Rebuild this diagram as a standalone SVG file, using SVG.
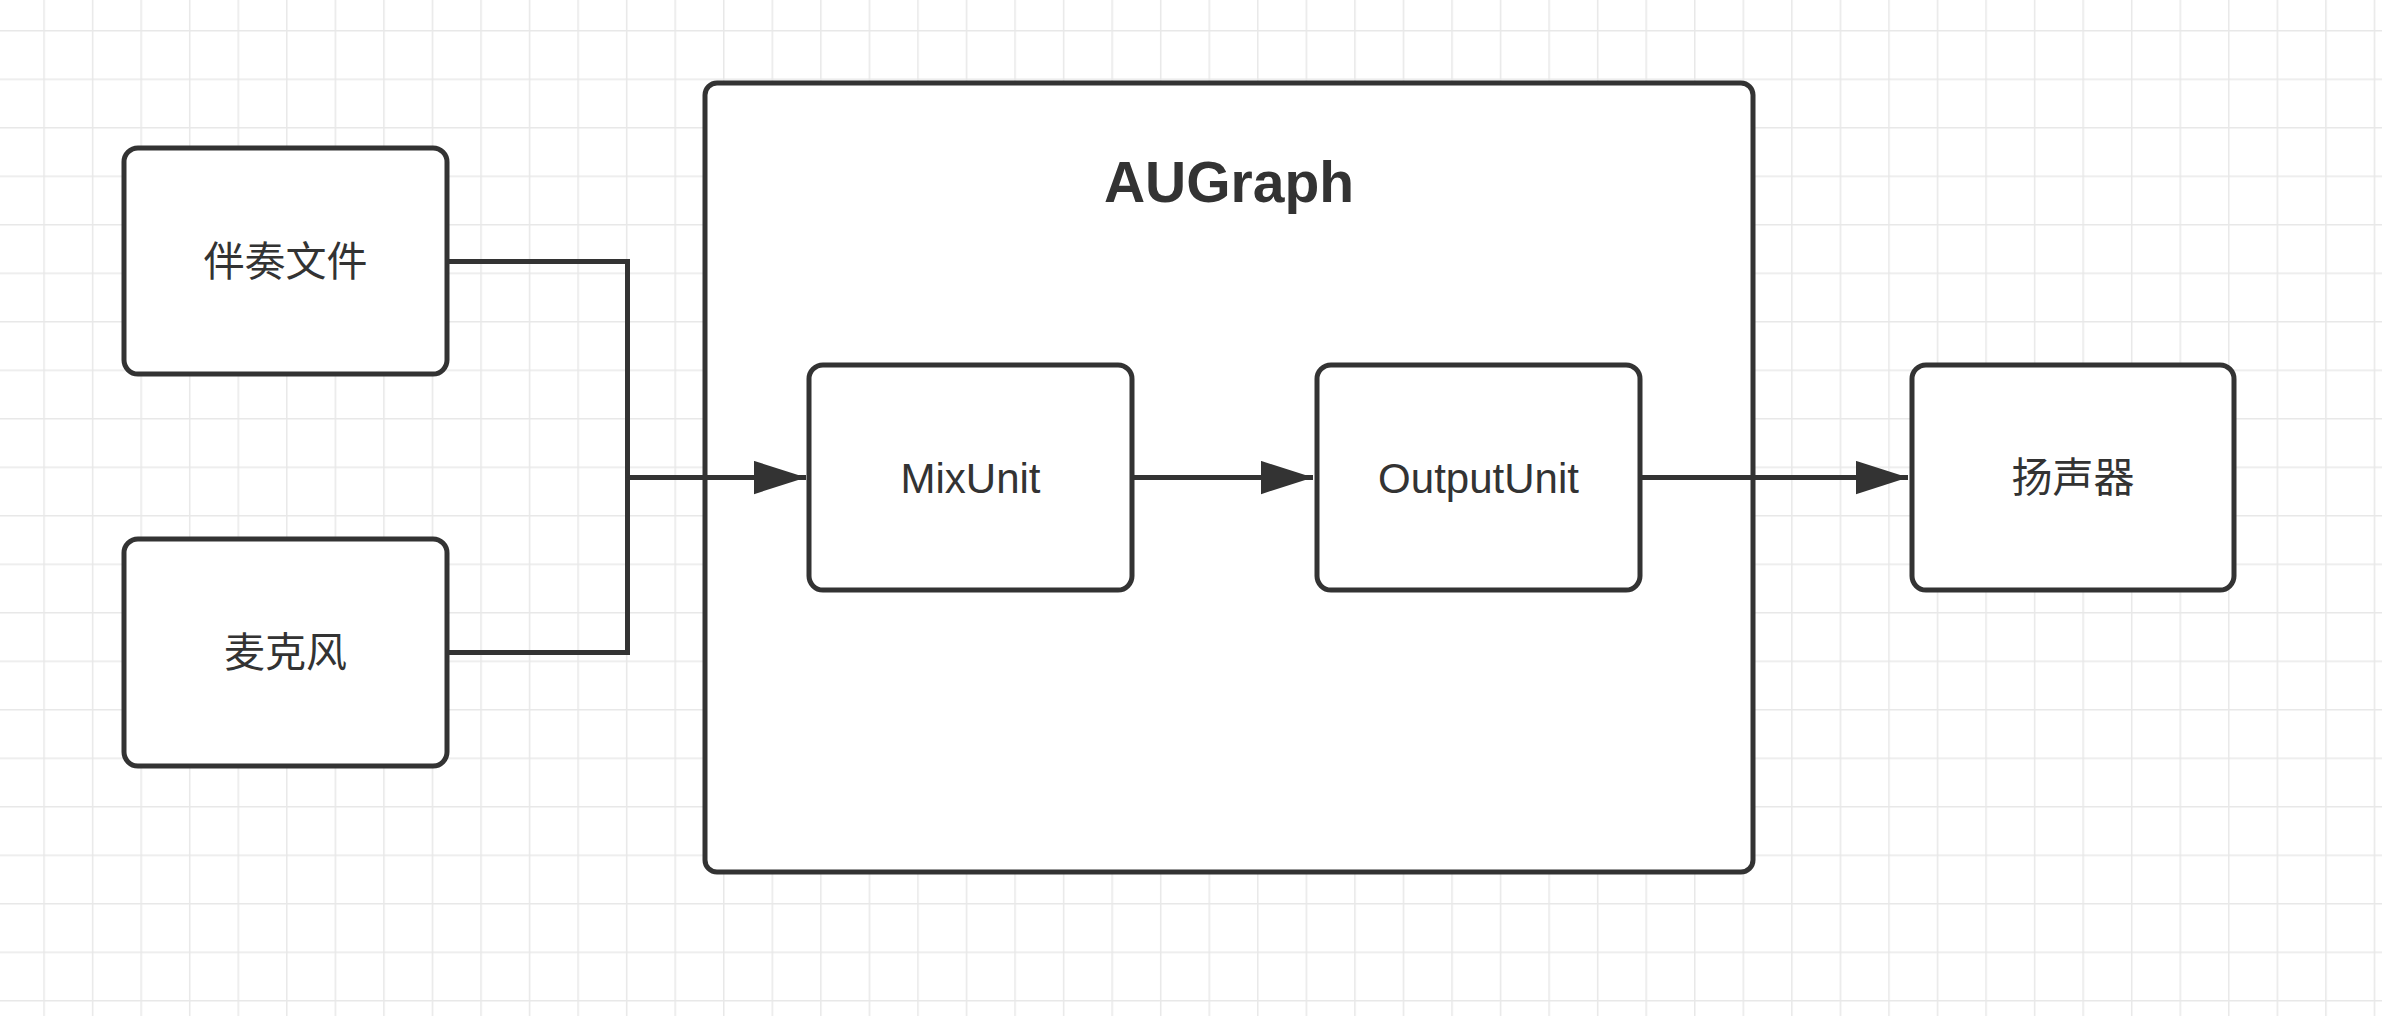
<svg xmlns="http://www.w3.org/2000/svg" width="2382" height="1016" viewBox="0 0 2382 1016">
  <defs>
    <pattern id="grid" patternUnits="userSpaceOnUse" x="43.3" y="30" width="48.55" height="48.5">
      <path d="M0.75 0 V48.5 M0 0.75 H48.55" fill="none" stroke="#e8e8e8" stroke-width="1.5"/>
    </pattern>
    <marker id="arrow" markerUnits="userSpaceOnUse" markerWidth="52" markerHeight="34" viewBox="0 0 50 32" refX="50" refY="16" orient="auto">
      <path d="M0 0 L50 16 L0 32 Z" fill="#333333"/>
    </marker>
  </defs>
  <style>
    .box { fill: #ffffff; stroke: #333333; stroke-width: 5; }
    .edge { fill: none; stroke: #333333; stroke-width: 5; }
    .cjk { font-family: "Noto Sans CJK SC", "Noto Sans", sans-serif; font-size: 41px; fill: #333333; text-anchor: middle; }
    .lat { font-family: "Liberation Sans", Arial, sans-serif; font-size: 42px; fill: #333333; text-anchor: middle; }
    .title { font-family: "Liberation Sans", Arial, sans-serif; font-size: 57px; font-weight: bold; fill: #333333; text-anchor: middle; }
  </style>
  <rect x="0" y="0" width="2382" height="1016" fill="#ffffff"/>
  <rect x="0" y="0" width="2382" height="1016" fill="url(#grid)"/>

  <g id="augraph">
    <rect class="box" x="705" y="83" width="1048" height="789" rx="12" ry="12"/>
    <text class="title" x="1229" y="202">AUGraph</text>
  </g>

  <g id="node-accompaniment">
    <rect class="box" x="124" y="148" width="323" height="226" rx="14" ry="14"/>
    <text class="cjk" x="285.5" y="276">伴奏文件</text>
  </g>

  <g id="node-microphone">
    <rect class="box" x="124" y="539" width="323" height="227" rx="14" ry="14"/>
    <text class="cjk" x="285.5" y="667">麦克风</text>
  </g>

  <g id="node-mixunit">
    <rect class="box" x="809" y="365" width="323" height="225" rx="14" ry="14"/>
    <text class="lat" x="970.5" y="493">MixUnit</text>
  </g>

  <g id="node-outputunit">
    <rect class="box" x="1317" y="365" width="323" height="225" rx="14" ry="14"/>
    <text class="lat" x="1478.5" y="493">OutputUnit</text>
  </g>

  <g id="node-speaker">
    <rect class="box" x="1912" y="365" width="322" height="225" rx="14" ry="14"/>
    <text class="cjk" x="2073" y="492">扬声器</text>
  </g>

  <g id="connectors">
    <path class="edge" d="M447 261.5 H627.5 V477.5 H806" marker-end="url(#arrow)"/>
    <path class="edge" d="M447 652.5 H627.5 V477.5"/>
    <path class="edge" d="M1132 477.5 H1313" marker-end="url(#arrow)"/>
    <path class="edge" d="M1640 477.5 H1908" marker-end="url(#arrow)"/>
  </g>
</svg>
